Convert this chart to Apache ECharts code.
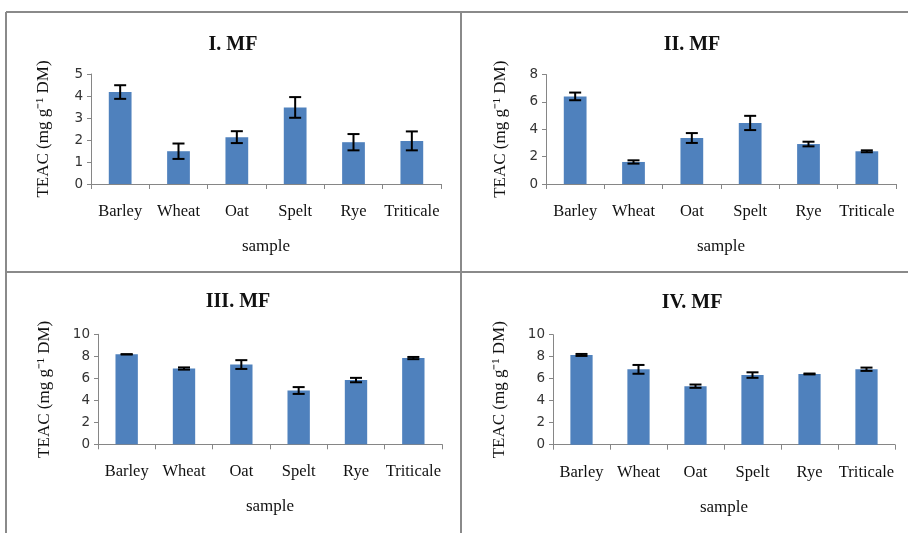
<!DOCTYPE html>
<html><head><meta charset="utf-8">
<script src="https://cdn.jsdelivr.net/npm/echarts@6/dist/echarts.min.js"></script>
<style>html,body{margin:0;padding:0;background:#fff}#c{width:908px;height:533px}</style>
</head><body><div id="c"></div>
<script>
const categories = ['Barley','Wheat','Oat','Spelt','Rye','Triticale'];
const titles = ['I. MF','II. MF','III. MF','IV. MF'];
const values1 = [4.18, 1.49, 2.13, 3.48, 1.90, 1.96];
const errors1 = [0.31, 0.35, 0.27, 0.47, 0.37, 0.43];
const values2 = [6.40, 1.61, 3.36, 4.46, 2.92, 2.39];
const errors2 = [0.28, 0.12, 0.36, 0.52, 0.17, 0.07];
const values3 = [8.18, 6.89, 7.25, 4.89, 5.84, 7.84];
const errors3 = [0.0, 0.10, 0.40, 0.31, 0.20, 0.10];
const values4 = [8.16, 6.85, 5.32, 6.33, 6.43, 6.86];
const errors4 = [0.09, 0.40, 0.15, 0.25, 0.04, 0.15];
const yMax = [5, 8, 10, 10];
const yStep = [1, 2, 2, 2];

const allValues = [values1, values2, values3, values4];
const allErrors = [errors1, errors2, errors3, errors4];

const grids = [
  {left: 91, right: 467, top: 74, bottom: 349},
  {left: 546, right: 12, top: 74.5, bottom: 349},
  {left: 98, right: 466, top: 334.3, bottom: 88.7},
  {left: 553, right: 13, top: 334.7, bottom: 88.3}
];
const titlePos = [[228, 30], [687, 30], [233, 287], [687, 288]];
const yNameGap = [39, 37, 45, 45];

const serif = 'Liberation Serif';
const axisGray = '#868686';

const option = {
  backgroundColor: '#ffffff',
  animation: false,
  title: titles.map((t, i) => ({
    text: t, left: titlePos[i][0], top: titlePos[i][1], textAlign: 'center',
    textStyle: {fontFamily: serif, fontWeight: 'bold', fontSize: 20, color: '#111'}
  })),
  grid: grids,
  xAxis: grids.map((g, i) => ({
    type: 'category', gridIndex: i, data: categories,
    axisLine: {lineStyle: {color: axisGray, width: 1}},
    axisTick: {show: true, length: 5, lineStyle: {color: axisGray}},
    axisLabel: {fontFamily: serif, fontSize: 16.5, color: '#111', margin: 19, interval: 0},
    name: 'sample', nameLocation: 'middle', nameGap: 54,
    nameTextStyle: {fontFamily: serif, fontSize: 17, color: '#111'}
  })),
  yAxis: grids.map((g, i) => ({
    type: 'value', gridIndex: i, min: 0, max: yMax[i], interval: yStep[i],
    axisLine: {show: true, lineStyle: {color: axisGray, width: 1}},
    axisTick: {show: true, length: 4, lineStyle: {color: axisGray}},
    splitLine: {show: false},
    axisLabel: {fontFamily: 'DejaVu Sans', fontSize: 13.5, color: '#333', margin: 8},
    name: 'TEAC (mg g\u207B\u00B9 DM)', nameLocation: 'middle', nameRotate: 90, nameGap: yNameGap[i],
    nameTextStyle: {fontFamily: serif, fontSize: 17, color: '#111'}
  })),
  series: [],
  graphic: [
    {type: 'line', shape: {x1: 6, y1: 12, x2: 6, y2: 533}, style: {stroke: '#8a8a8a', lineWidth: 2}},
    {type: 'line', shape: {x1: 6, y1: 12, x2: 908, y2: 12}, style: {stroke: '#8a8a8a', lineWidth: 2}},
    {type: 'line', shape: {x1: 461, y1: 12, x2: 461, y2: 533}, style: {stroke: '#8a8a8a', lineWidth: 2}},
    {type: 'line', shape: {x1: 6, y1: 272, x2: 908, y2: 272}, style: {stroke: '#8a8a8a', lineWidth: 2}}
  ]
};

allValues.forEach((vals, i) => {
  option.series.push({
    type: 'bar', xAxisIndex: i, yAxisIndex: i, data: vals, barWidth: '39%',
    itemStyle: {color: '#4F81BD'}, z: 2
  });
  const errData = vals.map((v, k) => [k, v - allErrors[i][k], v + allErrors[i][k]]);
  option.series.push({
    type: 'custom', xAxisIndex: i, yAxisIndex: i, data: errData, z: 5,
    renderItem: function (params, api) {
      const x = api.value(0);
      const lo = api.coord([x, api.value(1)]);
      const hi = api.coord([x, api.value(2)]);
      const cap = 6;
      const st = {stroke: '#000', lineWidth: 2};
      return {type: 'group', children: [
        {type: 'line', shape: {x1: lo[0], y1: lo[1], x2: hi[0], y2: hi[1]}, style: st},
        {type: 'line', shape: {x1: hi[0] - cap, y1: hi[1], x2: hi[0] + cap, y2: hi[1]}, style: st},
        {type: 'line', shape: {x1: lo[0] - cap, y1: lo[1], x2: lo[0] + cap, y2: lo[1]}, style: st}
      ]};
    }
  });
});

const chart = echarts.init(document.getElementById('c'), null, {renderer: 'canvas'});
chart.setOption(option);
</script>
</body></html>
